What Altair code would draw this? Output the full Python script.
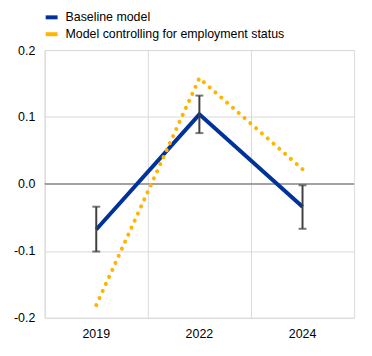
import altair as alt
import pandas as pd

years = ["2019", "2022", "2024"]
baseline = [-0.068, 0.104, -0.034]
base_lo = [-0.101, 0.076, -0.067]
base_hi = [-0.034, 0.132, -0.002]
controlled = [-0.181, 0.158, 0.022]
series_names = ["Baseline model", "Model controlling for employment status"]
colors = ["#003299", "#ffb400"]
y_ticks = [-0.2, -0.1, 0.0, 0.1, 0.2]

df = pd.DataFrame({
    "year": years * 2,
    "value": baseline + controlled,
    "series": [series_names[0]] * 3 + [series_names[1]] * 3,
})
err = pd.DataFrame({"year": years, "lo": base_lo, "hi": base_hi})
zero = pd.DataFrame({"y": [0.0]})

FONT = "Liberation Sans"
FS = 12.5
xscale = alt.Scale(domain=years, paddingInner=0, paddingOuter=0)
yscale = alt.Scale(domain=[-0.2, 0.2], nice=False)

color = alt.Color(
    "series:N",
    scale=alt.Scale(domain=series_names, range=colors),
    legend=alt.Legend(
        title=None, orient="none", legendX=-1, legendY=-41,
        symbolType="stroke", symbolSize=144,
        symbolStrokeWidth=4, symbolDash=[],
        labelFont=FONT, labelFontSize=FS, labelColor="#000000",
        rowPadding=1, labelOffset=6, labelLimit=400,
    ),
)

x = alt.X("year:N", scale=xscale, title=None,
          axis=alt.Axis(labelAngle=0, grid=True, bandPosition=0, ticks=False,
                        domain=False, gridColor="#d9d9d9", labelFont=FONT,
                        labelFontSize=FS, labelColor="#000000", labelPadding=10))
y = alt.Y("value:Q", scale=yscale, title=None,
          axis=alt.Axis(values=y_ticks, grid=True, gridColor="#d9d9d9", ticks=False,
                        domain=False, labelFont=FONT, labelFontSize=FS,
                        labelColor="#000000", labelPadding=10,
                        labelExpr="replace(format(datum.value, '.1f'), '\u2212', '-')"))

zero_line = alt.Chart(zero).mark_rule(color="#595959", strokeWidth=1).encode(y=alt.Y("y:Q", scale=yscale))

base_line = alt.Chart(df).transform_filter(
    alt.datum.series == series_names[0]
).mark_line(strokeWidth=4).encode(x=x, y=y, color=color)

ctrl_line = alt.Chart(df).transform_filter(
    alt.datum.series == series_names[1]
).mark_line(strokeWidth=4, strokeDash=[0.1, 7.7], strokeCap="round").encode(x=x, y=y, color=color)

err_rule = alt.Chart(err).mark_rule(color="#404040", strokeWidth=2).encode(
    x=alt.X("year:N", scale=xscale), y=alt.Y("lo:Q", scale=yscale), y2="hi:Q")
cap_lo = alt.Chart(err).mark_tick(color="#404040", thickness=2, size=8, orient="horizontal").encode(
    x=alt.X("year:N", scale=xscale), y=alt.Y("lo:Q", scale=yscale))
cap_hi = alt.Chart(err).mark_tick(color="#404040", thickness=2, size=8, orient="horizontal").encode(
    x=alt.X("year:N", scale=xscale), y=alt.Y("hi:Q", scale=yscale))

chart = alt.layer(zero_line, base_line, ctrl_line, err_rule, cap_lo, cap_hi).properties(
    width=312, height=270,
    padding={"left": 5, "top": 0, "right": 9, "bottom": 5},
).configure_view(stroke="#d9d9d9").configure(background="white")

chart.save("out.html", embed_options={"renderer": "svg", "actions": False})
